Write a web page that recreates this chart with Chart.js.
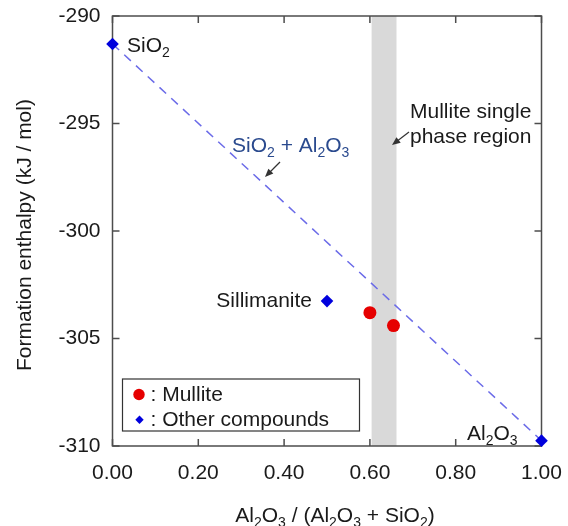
<!DOCTYPE html>
<html>
<head>
<meta charset="utf-8">
<script src="https://cdn.jsdelivr.net/npm/chart.js@4.4.0/dist/chart.umd.min.js"></script>
<style>
    html, body { margin: 0; padding: 0; background: #fff; }
    #wrap { width: 568px; height: 526px; position: relative; }
</style>
</head>
<body>
<div id="wrap"><canvas id="enthalpy-chart"></canvas></div>
<script>
// axis ranges
var xRange = [0, 1];
var yRange = [-310, -290];
var xStep = 0.2;
var yStep = 5;

// other compounds (blue diamonds)
var otherNames = ['SiO2', 'Sillimanite', 'Al2O3'];
var otherX = [0.0, 0.5, 1.0];
var otherY = [-291.3, -303.26, -309.75];

// mullite (red circles)
var mulliteX = [0.6, 0.655];
var mulliteY = [-303.8, -304.4];

// SiO2 + Al2O3 tie line
var tieX = [0.0, 1.0];
var tieY = [-291.3, -309.75];

// mullite single phase region (x from / to)
var singlePhase = [0.604, 0.662];

var FONT = "'Liberation Sans', Arial, Helvetica, sans-serif";
var TEXT = '#1a1a1a';
var FS = 21;

function pts(xs, ys) {
    return xs.map(function (x, i) { return { x: x, y: ys[i] }; });
}

// parts starting with '_' are subscripts
function richText(ctx, parts, x, y, align, size, color) {
    var sub = Math.round(size * 0.68);
    var segs = parts.map(function (p) {
        var isSub = p.charAt(0) === '_';
        return { t: isSub ? p.slice(1) : p, s: isSub };
    });
    var w = 0;
    segs.forEach(function (s) {
        ctx.font = (s.s ? sub : size) + 'px ' + FONT;
        s.w = ctx.measureText(s.t).width;
        w += s.w;
    });
    var cx = align === 'right' ? x - w : (align === 'center' ? x - w / 2 : x);
    ctx.fillStyle = color;
    ctx.textAlign = 'left';
    ctx.textBaseline = 'alphabetic';
    segs.forEach(function (s) {
        ctx.font = (s.s ? sub : size) + 'px ' + FONT;
        ctx.fillText(s.t, cx, s.s ? y + size * 0.25 : y);
        cx += s.w;
    });
}

function arrow(ctx, x1, y1, x2, y2) {
    var ang = Math.atan2(y2 - y1, x2 - x1);
    ctx.save();
    ctx.strokeStyle = '#333';
    ctx.fillStyle = '#333';
    ctx.lineWidth = 1.2;
    ctx.beginPath();
    ctx.moveTo(x1, y1);
    ctx.lineTo(x2 - Math.cos(ang) * 5, y2 - Math.sin(ang) * 5);
    ctx.stroke();
    ctx.beginPath();
    ctx.moveTo(x2, y2);
    ctx.lineTo(x2 - Math.cos(ang - 0.4) * 9, y2 - Math.sin(ang - 0.4) * 9);
    ctx.lineTo(x2 - Math.cos(ang + 0.4) * 9, y2 - Math.sin(ang + 0.4) * 9);
    ctx.closePath();
    ctx.fill();
    ctx.restore();
}

var decoPlugin = {
    id: 'deco',
    beforeDatasetsDraw: function (chart) {
        var ctx = chart.ctx, a = chart.chartArea;
        var xs = chart.scales.x, ys = chart.scales.y;
        ctx.save();
        // single phase band
        var b0 = xs.getPixelForValue(singlePhase[0]);
        var b1 = xs.getPixelForValue(singlePhase[1]);
        ctx.fillStyle = '#d9d9d9';
        ctx.fillRect(b0, a.top, b1 - b0, a.bottom - a.top);

        // frame + inward ticks on all sides
        ctx.strokeStyle = '#4d4d4d';
        ctx.lineWidth = 1.5;
        ctx.beginPath();
        xs.ticks.forEach(function (t) {
            var px = xs.getPixelForValue(t.value);
            ctx.moveTo(px, a.bottom); ctx.lineTo(px, a.bottom - 7);
            ctx.moveTo(px, a.top); ctx.lineTo(px, a.top + 7);
        });
        ys.ticks.forEach(function (t) {
            var py = ys.getPixelForValue(t.value);
            ctx.moveTo(a.left, py); ctx.lineTo(a.left + 7, py);
            ctx.moveTo(a.right, py); ctx.lineTo(a.right - 7, py);
        });
        ctx.stroke();
        ctx.strokeRect(a.left, a.top, a.right - a.left, a.bottom - a.top);
        ctx.restore();
    },
    afterDraw: function (chart) {
        var ctx = chart.ctx, a = chart.chartArea;
        var xs = chart.scales.x, ys = chart.scales.y;
        ctx.save();

        // point labels
        var p0 = { x: xs.getPixelForValue(otherX[0]), y: ys.getPixelForValue(otherY[0]) };
        var p1 = { x: xs.getPixelForValue(otherX[1]), y: ys.getPixelForValue(otherY[1]) };
        var p2 = { x: xs.getPixelForValue(otherX[2]), y: ys.getPixelForValue(otherY[2]) };
        richText(ctx, ['SiO', '_2'], p0.x + 14.5, p0.y + 8, 'left', FS, TEXT);
        richText(ctx, [otherNames[1]], p1.x - 15, p1.y + 6, 'right', FS, TEXT);
        richText(ctx, ['Al', '_2', 'O', '_3'], p2.x - 74.5, p2.y - 1, 'left', FS, TEXT);

        // tie line label
        richText(ctx, ['SiO', '_2', ' + Al', '_2', 'O', '_3'], 232, 152, 'left', FS, '#2a4a8e');
        arrow(ctx, 280, 162, 265, 177);

        // single phase label
        richText(ctx, ['Mullite single'], 410, 118, 'left', FS, TEXT);
        richText(ctx, ['phase region'], 410, 143, 'left', FS, TEXT);
        arrow(ctx, 409, 132, 392, 145);

        // legend box
        var lx = a.left + 10, ly = a.bottom - 67;
        ctx.fillStyle = '#fff';
        ctx.fillRect(lx, ly, 237, 52);
        ctx.strokeStyle = '#333';
        ctx.lineWidth = 1.2;
        ctx.strokeRect(lx, ly, 237, 52);
        ctx.fillStyle = '#e60000';
        ctx.beginPath();
        ctx.arc(lx + 16.5, ly + 15.5, 5.7, 0, Math.PI * 2);
        ctx.fill();
        ctx.fillStyle = '#0000dd';
        ctx.beginPath();
        ctx.moveTo(lx + 17, ly + 36.5);
        ctx.lineTo(lx + 21.2, ly + 40.7);
        ctx.lineTo(lx + 17, ly + 44.9);
        ctx.lineTo(lx + 12.8, ly + 40.7);
        ctx.closePath();
        ctx.fill();
        richText(ctx, [': Mullite'], lx + 28, ly + 21.5, 'left', FS, TEXT);
        richText(ctx, [': Other compounds'], lx + 28, ly + 47, 'left', FS, TEXT);

        // axis titles
        richText(ctx, ['Al', '_2', 'O', '_3', ' / (Al', '_2', 'O', '_3', ' + SiO', '_2', ')'], 335, 522, 'center', FS, TEXT);
        ctx.translate(31, 235);
        ctx.rotate(-Math.PI / 2);
        richText(ctx, ['Formation enthalpy (kJ / mol)'], 0, 0, 'center', FS, TEXT);
        ctx.restore();
    }
};

new Chart(document.getElementById('enthalpy-chart'), {
    type: 'scatter',
    data: {
        datasets: [
            {
                type: 'line',
                label: 'SiO2 + Al2O3',
                data: pts(tieX, tieY),
                borderColor: '#6b6be8',
                borderWidth: 1.5,
                borderDash: [9, 7],
                pointRadius: 0,
                fill: false,
                clip: false,
                order: 3
            },
            {
                label: 'Mullite',
                data: pts(mulliteX, mulliteY),
                pointStyle: 'circle',
                pointRadius: 6.5,
                backgroundColor: '#e60000',
                borderWidth: 0,
                clip: false
            },
            {
                label: 'Other compounds',
                data: pts(otherX, otherY),
                pointStyle: 'rectRot',
                pointRadius: 6.3,
                backgroundColor: '#0000dd',
                borderWidth: 0,
                clip: false
            }
        ]
    },
    options: {
        responsive: true,
        maintainAspectRatio: false,
        animation: false,
        layout: { autoPadding: false, padding: { left: 0, right: 26.5, top: 16, bottom: 0 } },
        plugins: { legend: { display: false }, tooltip: { enabled: false } },
        scales: {
            x: {
                type: 'linear',
                min: xRange[0],
                max: xRange[1],
                afterFit: function (s) {
                    s.height = 80;
                    s.paddingLeft = 0;
                    s.paddingRight = 0;
                },
                grid: { display: false, drawTicks: false },
                border: { display: false },
                ticks: {
                    stepSize: xStep,
                    padding: 15,
                    color: TEXT,
                    font: { family: FONT, size: FS },
                    maxRotation: 0,
                    callback: function (v) { return v.toFixed(2); }
                }
            },
            y: {
                type: 'linear',
                min: yRange[0],
                max: yRange[1],
                afterFit: function (s) {
                    s.width = 112.5;
                    s.paddingTop = 0;
                    s.paddingBottom = 0;
                },
                grid: { display: false, drawTicks: false },
                border: { display: false },
                ticks: {
                    stepSize: yStep,
                    padding: 12,
                    color: TEXT,
                    font: { family: FONT, size: FS },
                    callback: function (v) { return String(v); }
                }
            }
        }
    },
    plugins: [decoPlugin]
});
</script>
</body>
</html>
